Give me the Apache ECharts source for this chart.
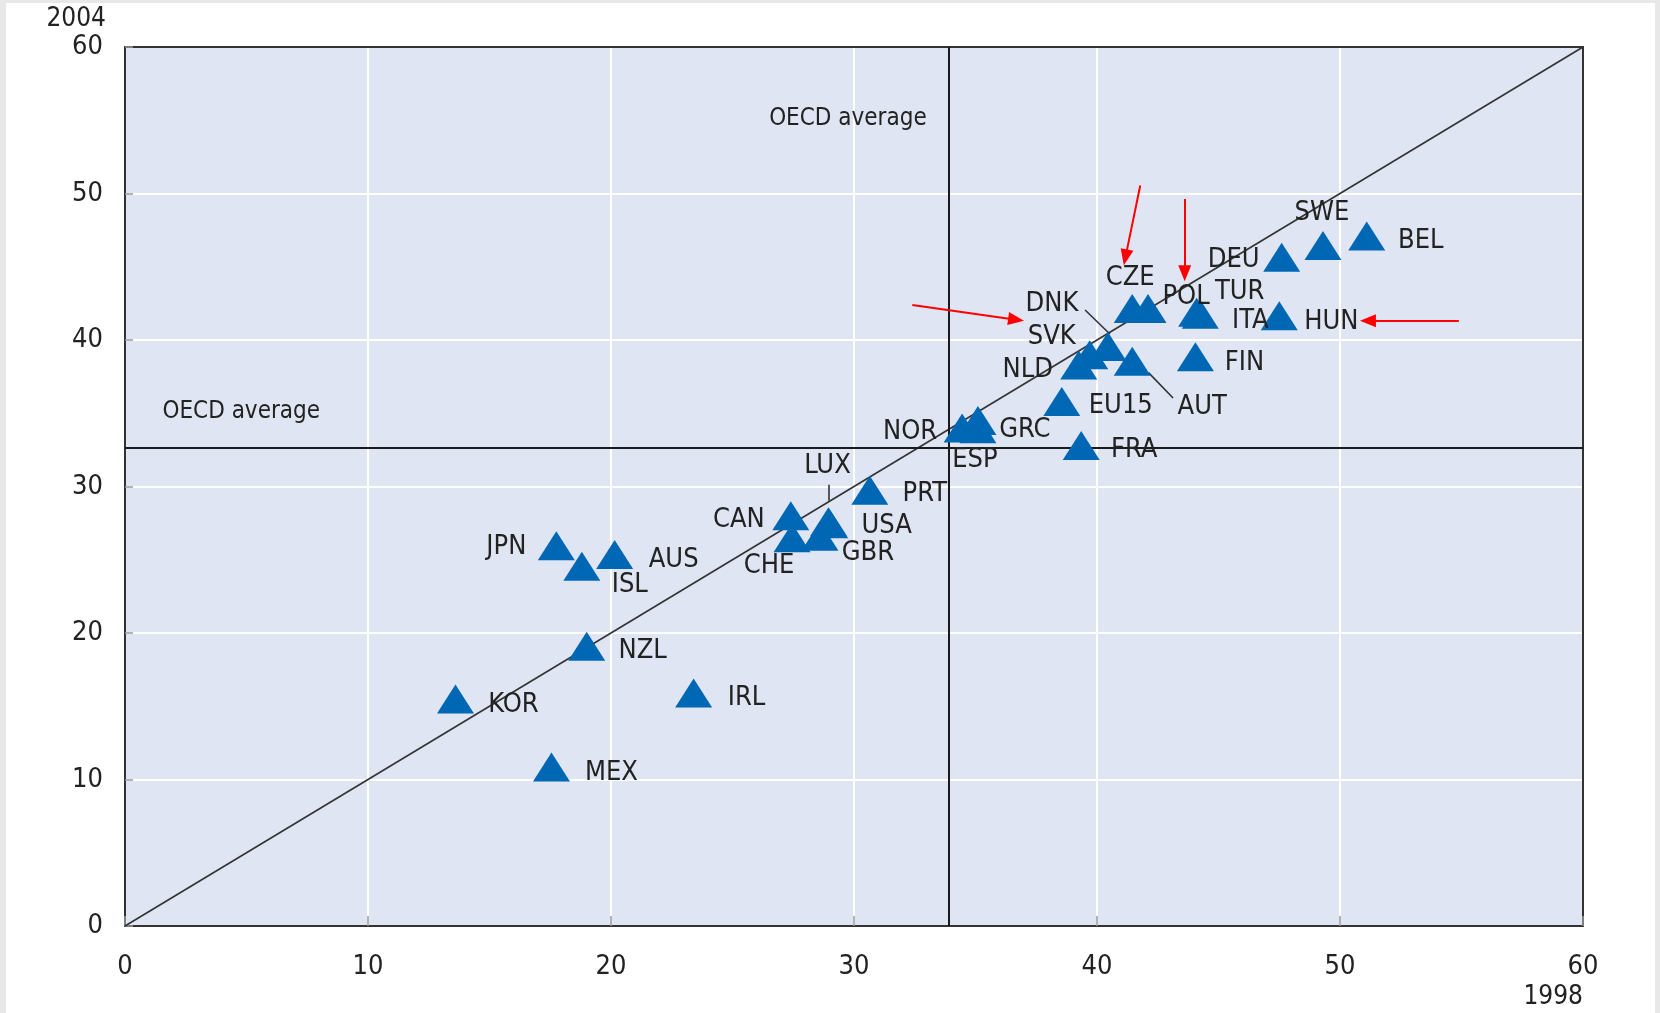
<!DOCTYPE html>
<html><head><meta charset="utf-8">
<script src="https://cdn.jsdelivr.net/npm/echarts@6/dist/echarts.min.js"></script>
<style>
html,body{margin:0;padding:0;background:#e8e8e8;}
#c{position:absolute;left:6px;top:3px;width:1649px;height:1010px;background:#fff;}
</style></head><body><div id="c"></div>
<script>
// ---- data ----
const countries = ['BEL','SWE','DEU','HUN','TUR','ITA','CZE','POL','FIN','NLD','SVK','DNK','AUT','EU15','FRA','NOR','ESP','GRC','PRT','LUX','USA','GBR','CAN','CHE','AUS','JPN','ISL','NZL','IRL','KOR','MEX'];
const values1998 = [51.1,49.3,47.6,47.5,44.1,44.25,41.45,42.1,44.05,39.25,39.7,40.45,41.45,38.55,39.35,34.45,35.1,35.1,30.65,28.95,29.0,28.6,27.4,27.45,20.15,17.75,18.8,19.0,23.4,13.6,17.55];
const values2004 = [47.1,46.45,45.65,41.65,41.9,41.75,42.15,42.15,38.85,38.3,39.0,39.55,38.55,35.8,32.8,34.0,33.95,34.5,29.75,27.6,27.45,26.6,28.0,26.5,25.35,25.95,24.55,19.1,15.9,15.5,10.85];
const oecdAverage1998 = 33.9;
const oecdAverage2004 = 32.65;
const xTickLabels = [0,10,20,30,40,50,60];
const yTickLabels = [0,10,20,30,40,50,60];
const xAxisTitle = '1998';
const yAxisTitle = '2004';
const noteText = 'OECD average';
const notes = [[29.75,55.1,'center'],[1.52,35.1,'left']];
const leaderLines = [[[39.51,42.05],[40.53,40.41]],[[42.12,37.77],[43.13,36.04]],[[28.97,30.12],[28.97,29.03]]];
const arrows = [[[32.4,42.39],[36.67,41.39]],[[41.78,50.55],[41.17,45.64]],[[43.61,49.62],[43.61,44.56]],[[54.89,41.31],[51.15,41.31]]];

// ---- layout (label offsets in px, relative to marker centre) ----
const labelOffsets = {
 BEL:[54,5],SWE:[-1,-33],DEU:[-48,3],HUN:[52,6],ITA:[50,7],TUR:[43,-20],POL:[38,-12],CZE:[-2,-31],
 FIN:[49,6],DNK:[-56,-43],SVK:[-38,-18],NLD:[-51,5],AUT:[70,46],EU15:[59,4],FRA:[53,5],NOR:[-52,4],
 GRC:[47,9],ESP:[-3,31],PRT:[55,4],LUX:[-1,-56],USA:[57,2],GBR:[48,17],CAN:[-52,4],CHE:[-23,28],
 AUS:[59,5],JPN:[-50,1],ISL:[48,19],NZL:[56,5],IRL:[53,5],KOR:[58,6],MEX:[60,6]
};
const FONT = "'Liberation Sans Narrow','Arial Narrow','DejaVu Sans Condensed',sans-serif";
const TXT = '#222';
const BORDER = {show:true,onZero:false,lineStyle:{color:'#333',width:2}};

const points = countries.map((c,i)=>({
  name:c, value:[values1998[i],values2004[i]],
  label:{offset:labelOffsets[c]}
}));

const chart = echarts.init(document.getElementById('c'));
chart.setOption({
  animation:false,
  grid:{left:119,right:72,top:44,bottom:87,show:true,backgroundColor:'#dfe5f2',borderWidth:0},
  xAxis:[{type:'value',min:xTickLabels[0],max:xTickLabels[xTickLabels.length-1],interval:10,
    name:xAxisTitle,nameLocation:'end',nameGap:0,
    nameTextStyle:{fontFamily:FONT,fontSize:26,color:TXT,align:'right',verticalAlign:'top',padding:[58,0,0,0]},
    axisLine:BORDER,
    axisTick:{show:true,inside:true,length:10,lineStyle:{color:'#999',width:1.5}},
    axisLabel:{fontFamily:FONT,fontSize:27,color:TXT,margin:27},
    splitLine:{show:true,lineStyle:{color:'#fff',width:2}}},
    {type:'value',position:'top',min:0,max:60,axisLine:BORDER,axisTick:{show:false},axisLabel:{show:false},splitLine:{show:false}}],
  yAxis:[{type:'value',min:yTickLabels[0],max:yTickLabels[yTickLabels.length-1],interval:10,
    name:yAxisTitle,nameLocation:'end',nameGap:28,
    nameTextStyle:{fontFamily:FONT,fontSize:26,color:TXT,align:'right',verticalAlign:'middle',padding:[0,19,0,0]},
    axisLine:BORDER,
    axisTick:{show:true,inside:true,length:8,lineStyle:{color:'#999',width:1.5}},
    axisLabel:{fontFamily:FONT,fontSize:27,color:TXT,margin:22},
    splitLine:{show:true,lineStyle:{color:'#fff',width:2}}},
    {type:'value',position:'right',min:0,max:60,axisLine:BORDER,axisTick:{show:false},axisLabel:{show:false},splitLine:{show:false}}],
  series:[
    {type:'line',data:[],z:2,silent:true,
      markLine:{silent:true,symbol:'none',label:{show:false},animation:false,
        lineStyle:{type:'solid'},
        data:[
          [{coord:[0,0],lineStyle:{color:'#333',width:1.6,type:'solid'}},{coord:[60,60]}],
          {xAxis:oecdAverage1998,lineStyle:{color:'#1a1a1a',width:2,type:'solid'}},
          {yAxis:oecdAverage2004,lineStyle:{color:'#1a1a1a',width:2,type:'solid'}},
          ...leaderLines.map(l=>[{coord:l[0],lineStyle:{color:'#333',width:1.6,type:'solid'}},{coord:l[1]}])
        ]}},
    {type:'scatter',z:5,symbol:'triangle',symbolSize:[37,29],
      itemStyle:{color:'#0067b4',opacity:1},
      label:{show:true,position:'inside',formatter:'{b}',fontFamily:FONT,fontSize:27,color:TXT},
      data:points},
    {type:'scatter',z:4,symbolSize:1,silent:true,itemStyle:{color:'rgba(0,0,0,0)'},
      label:{show:true,formatter:'{b}',fontFamily:FONT,fontSize:24,color:TXT,opacity:1},
      data:notes.map(n=>({name:noteText,value:[n[0],n[1]],label:{position:n[2]==='left'?'right':'inside',distance:0,color:TXT}}))},
    {type:'line',data:[],z:10,silent:true,
      markLine:{silent:true,symbol:['none','triangle'],symbolSize:[13,16],label:{show:false},animation:false,
        lineStyle:{color:'#f00',width:2,type:'solid'},
        data:arrows.map(a=>[{coord:a[0]},{coord:a[1]}])}}
  ]
});
</script></body></html>
